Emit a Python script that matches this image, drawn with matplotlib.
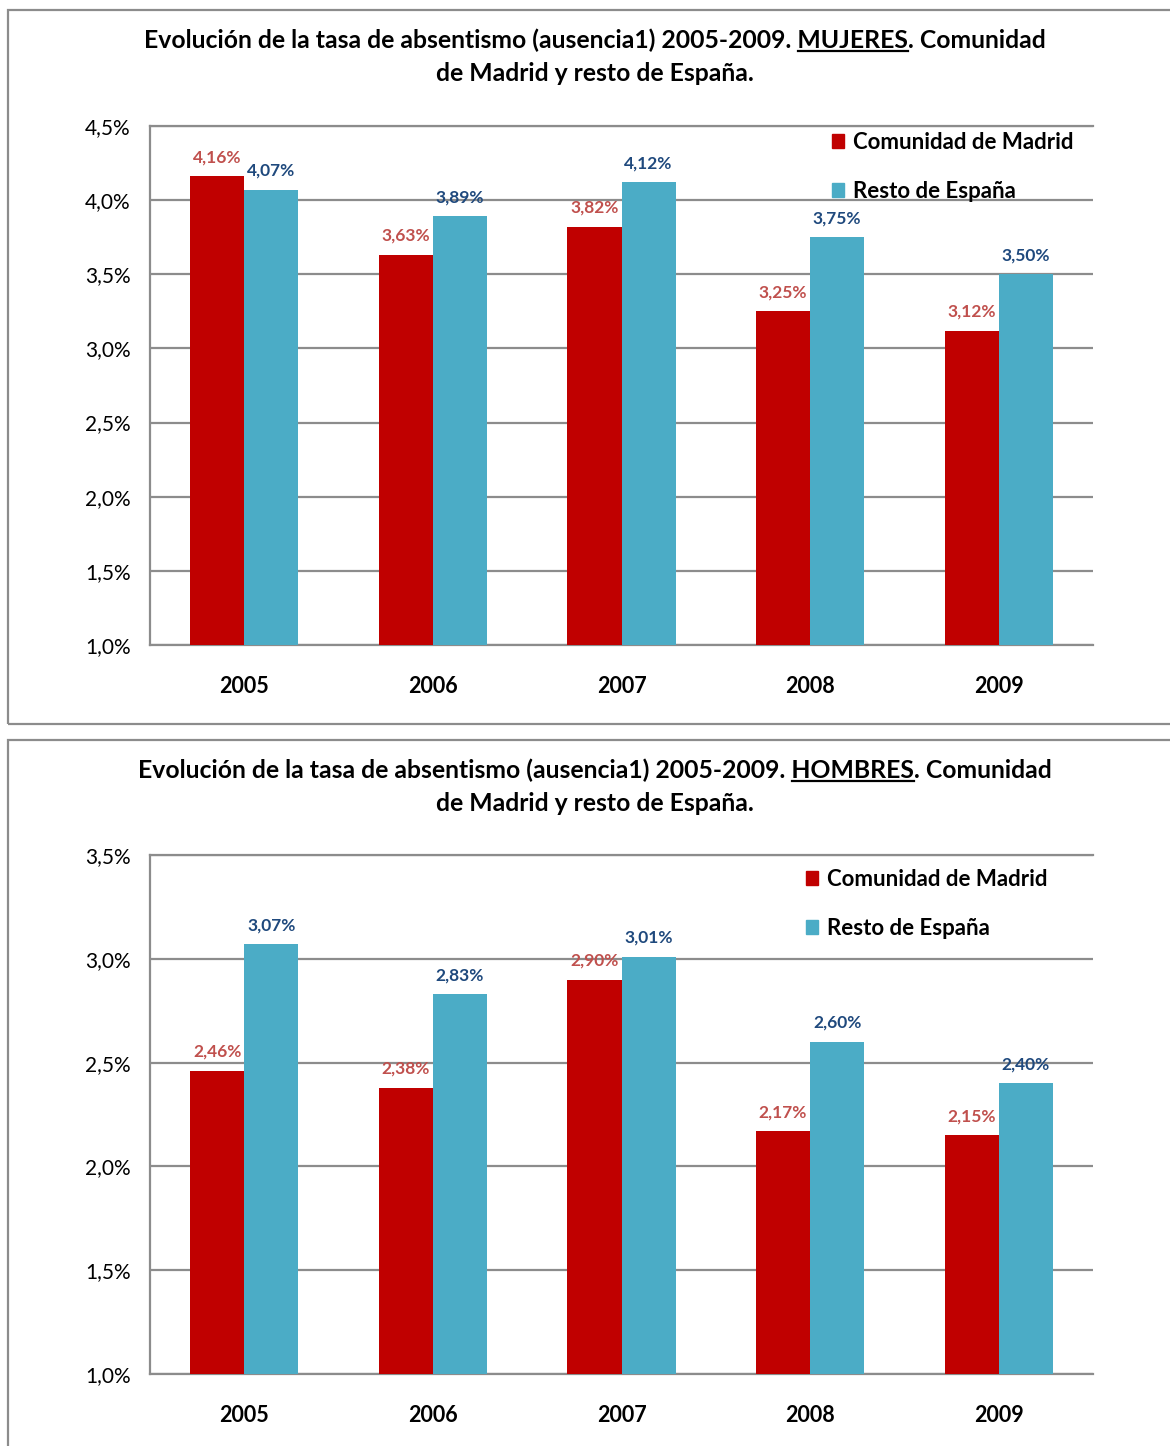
import numpy as np
import matplotlib
matplotlib.use('Agg')
import matplotlib.pyplot as plt
from matplotlib.patches import Rectangle, Patch
from matplotlib.lines import Line2D

# absentismo (ausencia1), % por año
years = ['2005', '2006', '2007', '2008', '2009']
madrid_mujeres = [4.16, 3.63, 3.82, 3.25, 3.12]
resto_mujeres = [4.07, 3.89, 4.12, 3.75, 3.50]
madrid_hombres = [2.46, 2.38, 2.90, 2.17, 2.15]
resto_hombres = [3.07, 2.83, 3.01, 2.60, 2.40]
series_names = ['Comunidad de Madrid', 'Resto de España']

col_madrid = '#C00000'
col_resto = '#4BACC6'
lab_madrid = '#C0504D'
lab_resto = '#1F497D'
gris = '#8c8c8c'

plt.rcParams['font.family'] = ['Lato', 'DejaVu Sans']

W, H = 1170, 1446
fig = plt.figure(figsize=(W / 100, H / 100), dpi=100)
TSIZE = 17.8

def fx(x):
    return x / W

def fy(y):
    return 1 - y / H

def pct(v, nd):
    return f'{v:.{nd}f}'.replace('.', ',') + '%'

def title(y_base, word):
    pre = 'Evolución de la tasa de absentismo (ausencia1) 2005-2009. '
    full = pre + word + '. Comunidad'
    kw = dict(fontsize=TSIZE, fontweight='bold', ha='center', va='baseline')
    t = fig.text(fx(595), fy(y_base), full, **kw)
    fig.text(fx(595), fy(y_base + 33), 'de Madrid y resto de España.', **kw)
    r = fig.canvas.get_renderer()
    bb = t.get_window_extent(r)
    tmp1 = fig.text(0, 0, pre + word, fontsize=TSIZE, fontweight='bold')
    tmp2 = fig.text(0, 0, word, fontsize=TSIZE, fontweight='bold')
    w1 = tmp1.get_window_extent(r).width
    w2 = tmp2.get_window_extent(r).width
    tmp1.remove(); tmp2.remove()
    x1 = bb.x0 + w1
    x0 = x1 - w2
    yl = fy(y_base + 3)
    fig.add_artist(Line2D([x0 / W, x1 / W], [yl, yl], color='black', lw=1.6,
                          transform=fig.transFigure))

def panel(top_px, bottom_px, madrid, resto, ymax, word, title_y, leg_x, leg_y):
    ax = fig.add_axes([fx(150), fy(bottom_px), fx(1093) - fx(150), (bottom_px - top_px) / H])
    x = np.arange(len(years))
    w = 0.287
    ax.bar(x - w / 2, madrid, w, color=col_madrid, label=series_names[0], zorder=3)
    ax.bar(x + w / 2, resto, w, color=col_resto, label=series_names[1], zorder=3)
    for xi, v in zip(x, madrid):
        ax.annotate(pct(v, 2), (xi - w / 2, v), xytext=(0, 19), textcoords='offset pixels',
                    ha='center', va='center', fontsize=12.5, fontweight='bold', color=lab_madrid, zorder=4)
    for xi, v in zip(x, resto):
        ax.annotate(pct(v, 2), (xi + w / 2, v), xytext=(0, 19), textcoords='offset pixels',
                    ha='center', va='center', fontsize=12.5, fontweight='bold', color=lab_resto, zorder=4)
    ax.set_xlim(-0.5, len(years) - 0.5)
    ax.set_ylim(1.0, ymax)
    yt = np.arange(1.0, ymax + 0.01, 0.5)
    ax.set_yticks(yt)
    ax.set_yticklabels([pct(t, 1) for t in yt], fontsize=15)
    ax.set_xticks(x)
    ax.set_xticklabels(years, fontsize=15.5, fontweight='bold')
    ax.tick_params(axis='both', length=0)
    ax.tick_params(axis='y', pad=14)
    ax.tick_params(axis='x', pad=22)
    ax.grid(axis='y', color=gris, lw=1.6, zorder=0)
    for s in ['left', 'bottom', 'top']:
        ax.spines[s].set_color(gris)
        ax.spines[s].set_linewidth(1.6)
    ax.spines['right'].set_visible(False)
    handles = [Patch(color=col_madrid), Patch(color=col_resto)]
    fig.legend(handles, series_names, loc='upper left',
               bbox_to_anchor=(fx(leg_x), fy(leg_y)), frameon=False,
               prop=dict(size=16, weight='bold'), handlelength=0.55, handleheight=0.55,
               handletextpad=0.4, labelspacing=1.25, borderpad=0, borderaxespad=0)
    title(title_y, word)
    return ax

# marcos de cada gráfico
fig.add_artist(Rectangle((fx(8), fy(724)), fx(1180) - fx(8), fy(10) - fy(724), fill=False,
                         edgecolor=gris, lw=1.6, transform=fig.transFigure))
fig.add_artist(Rectangle((fx(8), fy(1470)), fx(1180) - fx(8), fy(740) - fy(1470), fill=False,
                         edgecolor=gris, lw=1.6, transform=fig.transFigure))

panel(126, 645, madrid_mujeres, resto_mujeres, 4.5, 'MUJERES', 48, 832, 132)
panel(855, 1374, madrid_hombres, resto_hombres, 3.5, 'HOMBRES', 778, 806, 869)

fig.savefig('out.png', dpi=100)
